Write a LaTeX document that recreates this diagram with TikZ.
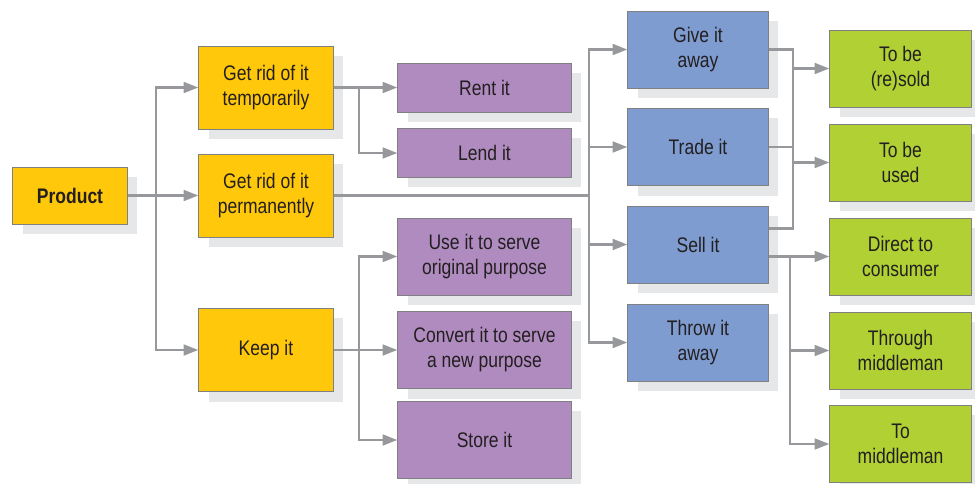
\documentclass[tikz,border=0pt]{standalone}
\usepackage{fontspec}
\setmainfont{Liberation Sans}[FakeStretch=0.83]
\usetikzlibrary{arrows.meta,shadows}
\definecolor{keepyellow}{RGB}{255,200,10}
\definecolor{waypurple}{RGB}{176,139,192}
\definecolor{giveblue}{RGB}{126,156,208}
\definecolor{sellgreen}{RGB}{176,208,52}
\definecolor{boxline}{RGB}{128,128,130}
\definecolor{linkgray}{RGB}{150,152,156}
\definecolor{shadowgray}{RGB}{230,231,232}
\definecolor{textdark}{RGB}{35,31,32}
\tikzset{box/.style={draw=boxline, line width=0.7pt, text=textdark, align=center,
  inner sep=0pt, font=\fontsize{15}{17.8}\selectfont,
  drop shadow={shadow xshift=7.1pt, shadow yshift=-7.1pt, fill=shadowgray, opacity=1}}}
\tikzset{ybox/.style={box, fill=keepyellow, minimum width=3.35cm, minimum height=2.075cm}}
\tikzset{pbox/.style={box, fill=waypurple, minimum width=4.325cm, minimum height=#1}}
\tikzset{bbox/.style={box, fill=giveblue, minimum width=3.5cm, minimum height=1.925cm}}
\tikzset{gbox/.style={box, fill=sellgreen, minimum width=3.525cm, minimum height=1.925cm}}
\tikzset{link/.style={draw=linkgray, line width=2pt}}
\tikzset{arr/.style={link, -{Triangle[length=10.5pt,width=7.5pt]}}}

\begin{document}
\begin{tikzpicture}[x=0.025cm, y=-0.025cm]
  \useasboundingbox (0,0) rectangle (975,483);
  % first column
  \node [box, fill=keepyellow, minimum width=2.85cm, minimum height=1.425cm] (prod) at (70,195.5) {\textbf{Product}};
  \node [ybox] (temp) at (266,87.5) {Get rid of it\\temporarily};
  \node [ybox] (perm) at (266,195.5) {Get rid of it\\permanently};
  \node [ybox] (keep) at (266,350) {Keep it};
  % purple column
  \node [pbox=1.225cm] (rent) at (484.5,87.5) {Rent it};
  \node [pbox=1.225cm] (lend) at (484.5,153) {Lend it};
  \node [pbox=1.925cm] (use) at (484.5,256.5) {Use it to serve\\original purpose};
  \node [pbox=1.925cm] (conv) at (484.5,350) {Convert it to serve\\a new purpose};
  \node [pbox=1.925cm] (store) at (484.5,440) {Store it};
  % blue column
  \node [bbox] (give) at (698,49.5) {Give it\\away};
  \node [bbox] (trade) at (698,147) {Trade it};
  \node [bbox] (sell) at (698,244.5) {Sell it};
  \node [bbox] (throw) at (698,342.5) {Throw it\\away};
  % green column
  \node [gbox] (resold) at (900.5,68.5) {To be\\(re)sold};
  \node [gbox] (used) at (900.5,162.5) {To be\\used};
  \node [gbox] (direct) at (900.5,256.5) {Direct to\\consumer};
  \node [gbox] (through) at (900.5,350.5) {Through\\middleman};
  \node [gbox] (tomid) at (900.5,444) {To\\middleman};
  % junctions
  \coordinate (a) at (156,195.5);
  \coordinate (b1) at (359,87.5);
  \coordinate (b2) at (359,350);
  \coordinate (c) at (589,195.5);
  \coordinate (d) at (793,150);
  \coordinate (e) at (790,256.5);
  % connectors
  \draw [arr] (prod) -- (perm);
  \draw [arr] (a) |- (temp);
  \draw [arr] (a) |- (keep);
  \draw [arr] (temp) -- (rent);
  \draw [arr] (b1) |- (lend);
  \draw [arr] (keep) -- (conv);
  \draw [arr] (b2) |- (use);
  \draw [arr] (b2) |- (store);
  \draw [link] (perm) -- (c);
  \draw [arr] (c) |- (give);
  \draw [arr] (c) |- (trade);
  \draw [arr] (c) |- (sell);
  \draw [arr] (c) |- (throw);
  \draw [link] (give) -| (d);
  \draw [link] (trade) -| (d);
  \draw [link] (sell.13) -| (d);
  \draw [arr] (d) |- (resold);
  \draw [arr] (d) |- (used);
  \draw [arr] (sell.east |- direct) -- (direct);
  \draw [arr] (e) |- (through);
  \draw [arr] (e) |- (tomid);
\end{tikzpicture}
\end{document}
